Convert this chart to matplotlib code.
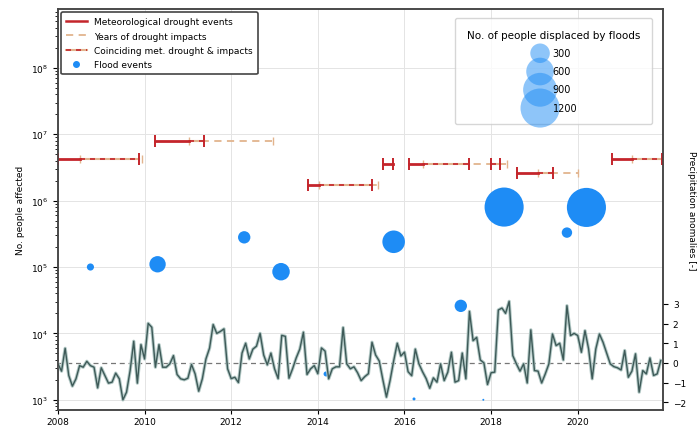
import matplotlib.pyplot as plt
import numpy as np
from matplotlib.lines import Line2D

# monthly precipitation anomalies, Jan 2008 - Dec 2021
precip = [
    -0.05, -0.42, 0.74, -0.64, -1.18, -0.81, -0.14, -0.22, 0.08, -0.14, -0.22, -1.27,
    -0.25, -0.64, -1.03, -0.98, -0.52, -0.81, -1.88, -1.49, -0.39, 1.10, -1.03, 0.93,
    0.20, 2.01, 1.81, -0.22, 0.93, -0.22, -0.22, -0.05, 0.37, -0.59, -0.81, -0.86,
    -0.78, -0.08, -0.56, -1.44, -0.81, 0.20, 0.75, 1.95, 1.50, 1.60, 1.73, -0.30,
    -0.80, -0.73, -1.00, 0.50, 1.00, 0.20, 0.70, 0.85, 1.50, 0.40, -0.10, 0.50,
    -0.30, -0.80, 1.40, 1.35, -0.78, -0.30, 0.25, 0.70, 1.56, -0.59, -0.30, -0.14,
    -0.55, 0.76, 0.60, -0.81, -0.30, -0.20, -0.20, 1.80, -0.05, -0.30, -0.20, -0.50,
    -0.90, -0.70, -0.55, 1.05, 0.40, 0.10, -0.85, -1.74, -0.90, 0.10, 1.00, 0.35,
    0.55, -0.45, -0.65, 0.70, -0.05, -0.45, -0.80, -1.29, -0.76, -0.98, -0.05, -0.90,
    -0.47, 0.54, -0.98, -0.90, 0.50, -0.81, 2.62, 1.13, 1.30, 0.15, 0.00, -1.10,
    -0.50, -0.47, 2.69, 2.79, 2.52, 3.13, 0.37, -0.05, -0.42, -0.05, -1.02, 1.68,
    -0.39, -0.42, -1.02, -0.56, -0.05, 1.47, 0.88, 1.00, 0.15, 2.91, 1.39, 1.50,
    1.39, 0.54, 1.64, 0.71, -0.81, 0.71, 1.47, 1.05, 0.50, -0.05, -0.19, -0.25,
    -0.36, 0.63, -0.73, -0.42, 0.46, -1.49, -0.39, -0.56, 0.25, -0.64, -0.56, 0.12,
]
months = 2008 + np.arange(len(precip)) / 12

# flood events
flood_year = [2008.75, 2010.3, 2012.3, 2013.15, 2014.19, 2015.75, 2016.22, 2017.3,
              2017.82, 2018.3, 2019.75, 2020.2]
flood_affected = [1.0e5, 1.1e5, 2.8e5, 8.5e4, 2.45e3, 2.4e5, 1.03e3, 2.6e4,
                  1.0e3, 8.0e5, 3.3e5, 7.9e5]
flood_displaced = [40, 210, 120, 240, 20, 400, 7, 120, 3, 1200, 85, 1200]

# drought events, one row per level
row_y = [4.2e6, 7.9e6, 1.7e6, 3.6e6, 2.6e6, 4.3e6]
met_start = [[2008.0], [2010.24], [2013.77], [2015.5, 2016.1, 2018.0], [2018.6], [2020.8]]
met_end = [[2009.87], [2011.37], [2015.25], [2015.74, 2017.5, 2018.2], [2019.43], [2021.95]]
impact_start = [2008.5, 2011.03, 2014.03, 2016.43, 2019.08, 2021.25]
impact_end = [2009.95, 2012.97, 2015.4, 2018.37, 2020.0, 2021.95]

legend_sizes = [300, 600, 900, 1200]

red = '#c4252b'
tan = '#e2b48e'
blue = '#1e8cf5'
k = 0.66  # marker area per displaced person

plt.rcParams['font.size'] = 6.5

fig = plt.figure(figsize=(6.98, 4.35), dpi=100)
ax = fig.add_axes([0.083, 0.055, 0.867, 0.922])
ax.set_yscale('log')
ax.set_ylim(700, 7.7e8)
ax.set_xlim(2008, 2021.97)
ax.set_xticks(range(2008, 2021, 2))
ax.tick_params(axis='x', pad=2, length=3)
ax.grid(True, which='major', color='#e4e4e4', linewidth=0.7)
ax.set_ylabel('No. people affected')

for y, ms, me, i0, i1 in zip(row_y, met_start, met_end, impact_start, impact_end):
    ax.plot([i0, i1], [y, y], color=tan, lw=1.3, ls=(0, (4, 3)), zorder=3)
    ax.plot([i0, i1], [y, y], ls='none', marker='|', ms=6, mew=1.0, color=tan, zorder=3)
    for a, b in zip(ms, me):
        c0, c1 = max(a, i0), min(b, i1)
        if c0 < c1:
            ax.plot([c0, c1], [y, y], color=tan, lw=1.5, zorder=4)
            ax.plot([c0, c1], [y, y], color=red, lw=1.2, ls=(0, (3, 3)), zorder=4)
        if a < i0:
            ax.plot([a, min(b, i0)], [y, y], color=red, lw=2.0, zorder=5)
        if b > i1:
            ax.plot([max(a, i1), b], [y, y], color=red, lw=2.0, zorder=5)
        ax.plot([a, b], [y, y], ls='none', marker='|', ms=8, mew=1.4, color=red, zorder=5)

ax.scatter(flood_year, flood_affected, s=np.array(flood_displaced) * k, color=blue,
           edgecolor='none', zorder=6)

ax2 = ax.twinx()
ax2.set_ylim(-2.4, 18)
ax2.set_yticks(range(-2, 4))
ax2.set_yticklabels(['\u22122', '\u22121', '0', '1', '2', '3'])
ax2.axhline(0, color='#777777', lw=0.9, ls=(0, (4, 3)))
ax2.plot(months, precip, color='#b3c9c6', lw=2.4, solid_joinstyle='round')
ax2.plot(months, precip, color='#3e5a58', lw=1.0, solid_joinstyle='round')
ax2.set_ylabel('Precipitation anomalies [-]', rotation=270, labelpad=7)

for a in (ax, ax2):
    for s in a.spines.values():
        s.set_color('#444444')
        s.set_linewidth(1.1)

handles = [
    Line2D([], [], color=red, lw=1.8),
    Line2D([], [], color=tan, lw=1.3, ls=(0, (4, 3))),
    (Line2D([], [], color=tan, lw=1.5), Line2D([], [], color=red, lw=1.2, ls=(0, (3, 3)))),
    Line2D([], [], ls='none', marker='o', ms=4, color=blue),
]
labels = ['Meteorological drought events', 'Years of drought impacts',
          'Coinciding met. drought & impacts', 'Flood events']
leg1 = ax2.legend(handles, labels, loc='upper left', fontsize=6.5, handlelength=2.3,
                  borderaxespad=0.35, borderpad=0.55, labelspacing=0.6, fancybox=True,
                  framealpha=1, edgecolor='#444444')
leg1.get_frame().set_linewidth(1.2)
ax2.add_artist(leg1)

size_handles = [ax2.scatter([], [], s=v * k, color=blue, alpha=0.5, edgecolor='none',
                            label=str(v)) for v in legend_sizes]
ax2.legend(handles=size_handles, loc='upper right', title='No. of people displaced by floods',
           fontsize=7, title_fontsize=7.5, labelspacing=0.85, borderpad=1.2,
           handletextpad=0.3, bbox_to_anchor=(0.99, 0.99), scatterpoints=1)

fig.savefig('out.png', dpi=100)
